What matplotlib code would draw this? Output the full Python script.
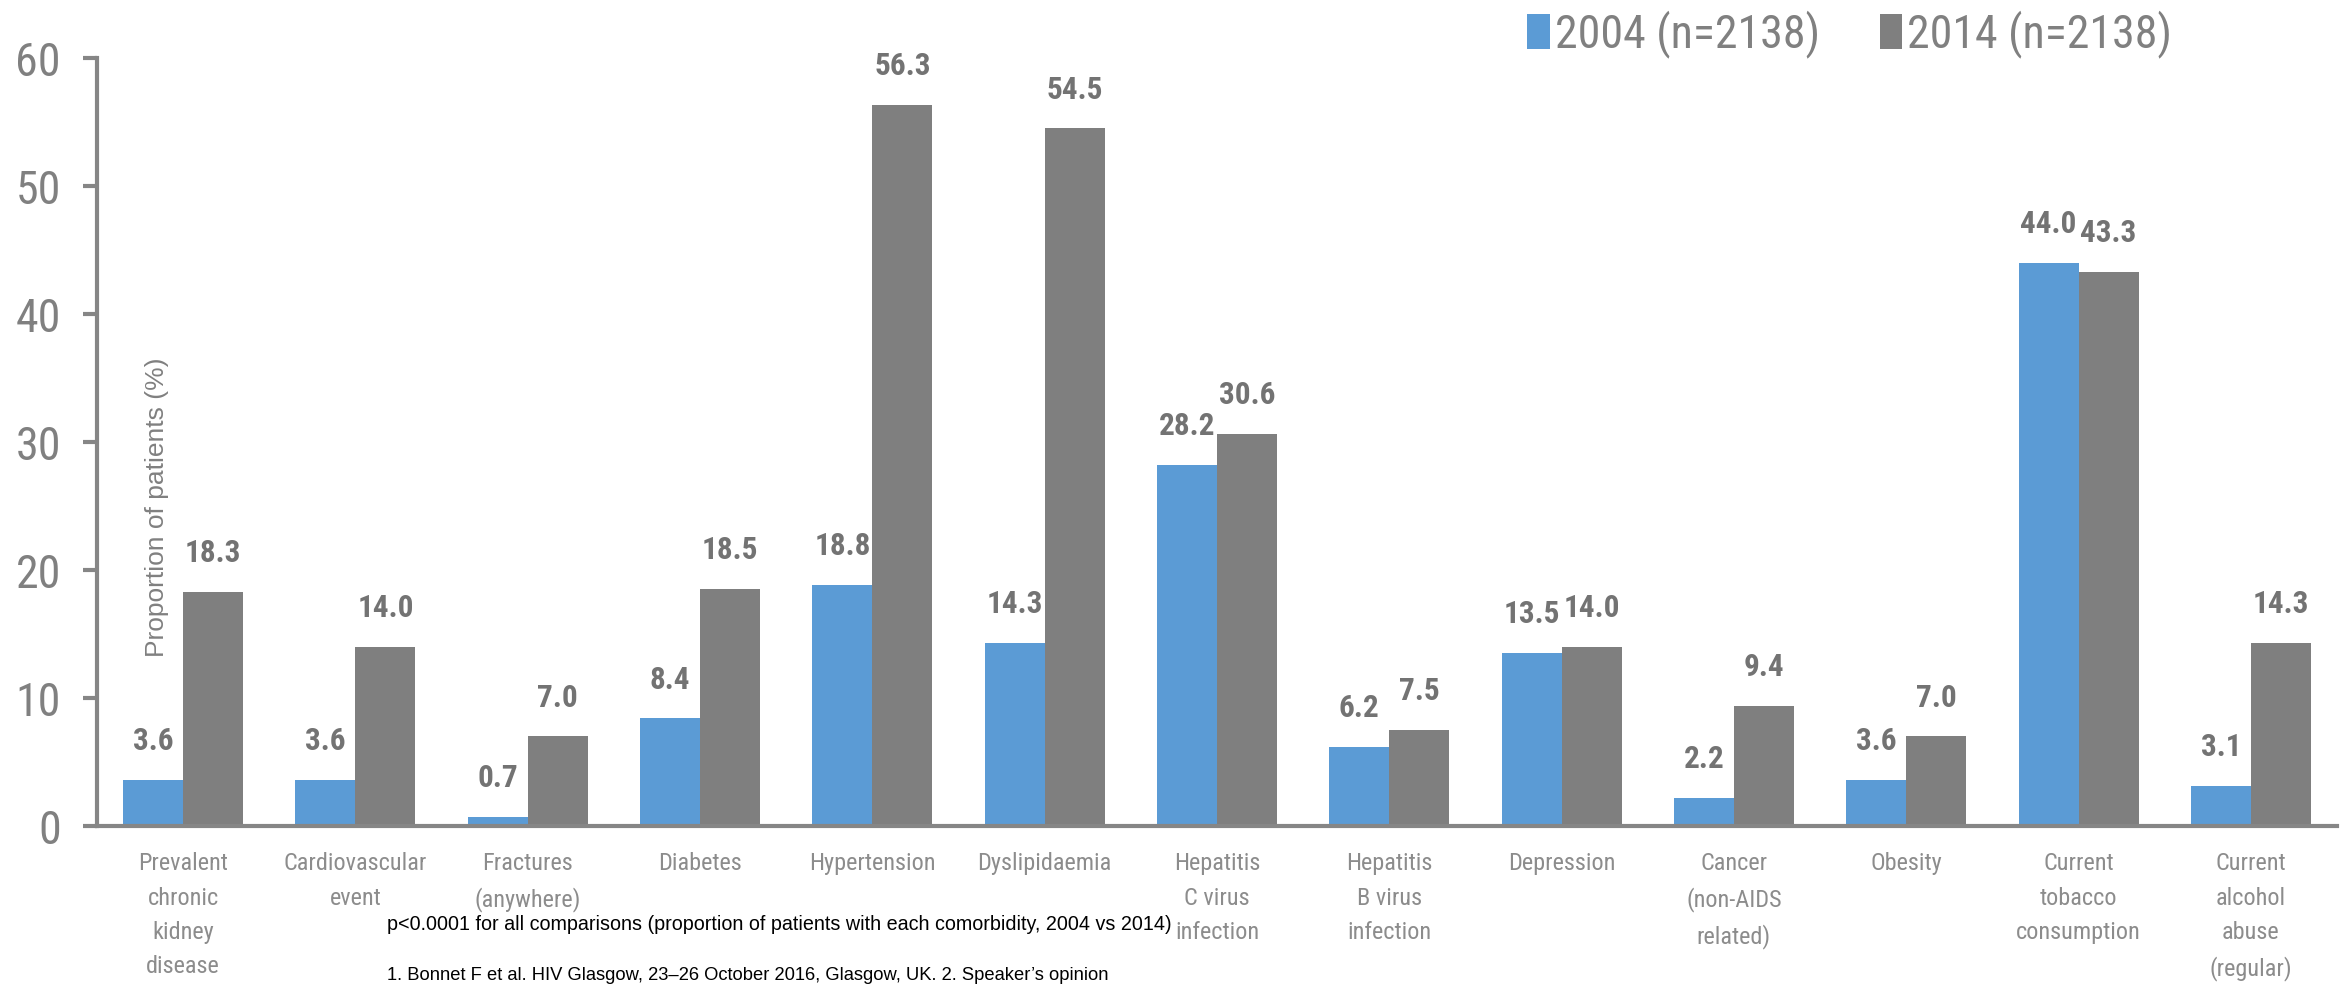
import matplotlib
matplotlib.use("Agg")
import matplotlib.pyplot as plt
from matplotlib import font_manager as fm
import numpy as np

categories = [
    "Prevalent\nchronic\nkidney\ndisease",
    "Cardiovascular\nevent",
    "Fractures\n(anywhere)",
    "Diabetes",
    "Hypertension",
    "Dyslipidaemia",
    "Hepatitis\nC virus\ninfection",
    "Hepatitis\nB virus\ninfection",
    "Depression",
    "Cancer\n(non-AIDS\nrelated)",
    "Obesity",
    "Current\ntobacco\nconsumption",
    "Current\nalcohol\nabuse\n(regular)",
]
values_2004 = [3.6, 3.6, 0.7, 8.4, 18.8, 14.3, 28.2, 6.2, 13.5, 2.2, 3.6, 44.0, 3.1]
values_2014 = [18.3, 14.0, 7.0, 18.5, 56.3, 54.5, 30.6, 7.5, 14.0, 9.4, 7.0, 43.3, 14.3]
series_labels = ["2004 (n=2138)", "2014 (n=2138)"]
yticks = [0, 10, 20, 30, 40, 50, 60]
ylabel = "Proportion of patients (%)"
footnote1 = "p<0.0001 for all comparisons (proportion of patients with each comorbidity, 2004 vs 2014)"
footnote2 = "1. Bonnet F et al. HIV Glasgow, 23\u201326 October 2016, Glasgow, UK. 2. Speaker\u2019s opinion"


def find_font(bold=False):
    cands = []
    for f in fm.fontManager.ttflist:
        fn = f.fname.lower()
        nm = f.name.lower()
        narrowish = ("narrow" in fn or "condensed" in fn or "narrow" in nm or "condensed" in nm
                     or str(f.stretch) in ("condensed", "semi-condensed", "extra-condensed"))
        if not narrowish:
            continue
        isbold = (f.weight in ("bold", 700, "heavy", 800, 600, "semibold", "demibold")) or "bold" in fn
        if isbold != bold:
            continue
        if "oblique" in fn or "italic" in fn:
            continue
        rank = 5
        if "liberation" in fn:
            rank = 0
        elif "roboto" in fn:
            rank = 1
        elif "dejavu" in fn:
            rank = 2
        elif "open" in fn:
            rank = 3
        cands.append((rank, f.fname))
    cands.sort()
    if cands:
        return fm.FontProperties(fname=cands[0][1]), True
    return fm.FontProperties(family="DejaVu Sans", weight="bold" if bold else "normal"), False


NARROW, has_narrow = find_font(False)
NARROW_B, _ = find_font(True)
k = 1.0 if has_narrow else 0.8

BLUE = "#5B9BD5"
GRAY = "#7F7F7F"
AX = "#868686"
TXT = "#808080"

fig = plt.figure(figsize=(23.48, 9.88), dpi=100)
ax = fig.add_axes([97/2348, 1-826/988, (2337-97)/2348, (826-58)/988])

x = np.arange(len(categories))
w = 0.348
b1 = ax.bar(x - w/2, values_2004, w, color=BLUE, label=series_labels[0], zorder=2)
b2 = ax.bar(x + w/2, values_2014, w, color=GRAY, label=series_labels[1], zorder=2)

for bars, vals in ((b1, values_2004), (b2, values_2014)):
    for r, v in zip(bars, vals):
        fp = NARROW_B.copy()
        fp.set_size(22.5 * k)
        ax.annotate(f"{v:.1f}", (r.get_x() + r.get_width()/2, v), xytext=(0, 28),
                    textcoords="offset points", ha="center", va="center",
                    fontproperties=fp, color="#737373")

ax.set_xlim(-0.5, len(categories) - 0.5)
ax.set_ylim(0, 60)
ax.set_yticks(yticks)
fp_y = NARROW.copy(); fp_y.set_size(33 * k)
ax.set_yticklabels([str(t) for t in yticks], fontproperties=fp_y, color=TXT)
ax.set_xticks(x)
fp_x = NARROW.copy(); fp_x.set_size(17.5 * (1.0 if has_narrow else 0.85))
ax.set_xticklabels(categories, fontproperties=fp_x, color="#8C8C8C", linespacing=1.62, va="top")
ax.tick_params(axis="x", length=0, pad=19)
ax.tick_params(axis="y", length=10, width=3, color=AX, pad=16)
for s in ("top", "right"):
    ax.spines[s].set_visible(False)
for s in ("left", "bottom"):
    ax.spines[s].set_color(AX)
    ax.spines[s].set_linewidth(3)
    ax.spines[s].set_zorder(3)

ax.text(0.027, 0.415, ylabel, transform=ax.transAxes, rotation=90, ha="center", va="center",
        fontsize=19, color=TXT, family="Liberation Sans")

fp_l = NARROW.copy(); fp_l.set_size(33 * k)
leg = fig.legend(handles=[b1, b2], labels=series_labels, loc="upper left",
                 bbox_to_anchor=(1509/2348, 1.008), ncol=2, frameon=False,
                 prop=fp_l, labelcolor=TXT,
                 handlelength=0.5, handleheight=0.8, handletextpad=0.1, columnspacing=1.3,
                 borderaxespad=0.0)

fig.text(387/2348, 1-924/988, footnote1, fontsize=14.2, color="black", family="Liberation Sans", va="center", ha="left")
fig.text(387/2348, 1-975/988, footnote2, fontsize=13.2, color="black", family="Liberation Sans", va="center", ha="left")

fig.savefig("out.png", dpi=100, facecolor="white")
